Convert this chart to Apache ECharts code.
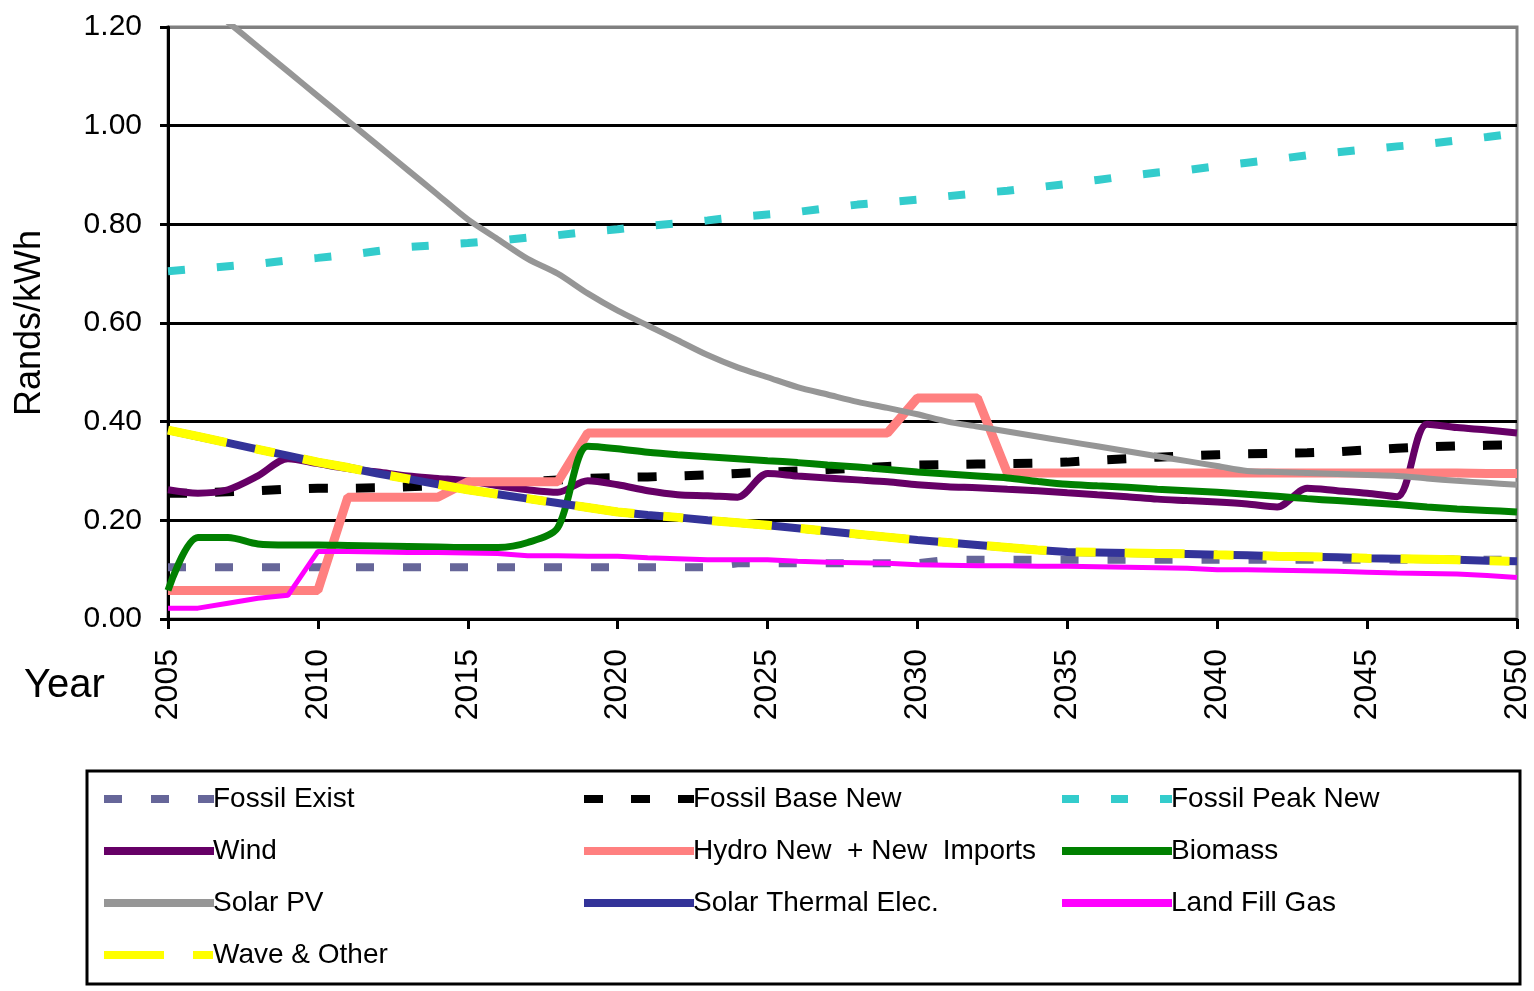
<!DOCTYPE html>
<html>
<head>
<meta charset="utf-8">
<script src="https://cdn.jsdelivr.net/npm/echarts@6/dist/echarts.min.js"></script>
<style>
  html, body { margin: 0; padding: 0; background: #fff; }
  #chart { width: 1534px; height: 991px; }
</style>
</head>
<body>
<div id="chart"></div>
<script>
const years = ['2005','2006','2007','2008','2009','2010','2011','2012','2013','2014',
  '2015','2016','2017','2018','2019','2020','2021','2022','2023','2024',
  '2025','2026','2027','2028','2029','2030','2031','2032','2033','2034',
  '2035','2036','2037','2038','2039','2040','2041','2042','2043','2044',
  '2045','2046','2047','2048','2049','2050'];

const fossilExist = [0.105,0.105,0.105,0.105,0.105,0.105,0.105,0.105,0.105,0.105,
  0.105,0.105,0.105,0.105,0.105,0.105,0.105,0.105,0.105,0.113,
  0.113,0.113,0.113,0.113,0.113,0.113,0.12,0.12,0.12,0.12,
  0.12,0.12,0.12,0.12,0.12,0.12,0.12,0.12,0.12,0.12,
  0.12,0.12,0.12,0.12,0.12,0.12];

const fossilBaseNew = [0.255,0.255,0.258,0.26,0.263,0.265,0.265,0.266,0.268,0.27,
  0.272,0.275,0.278,0.282,0.285,0.287,0.288,0.29,0.292,0.295,
  0.298,0.3,0.303,0.306,0.309,0.312,0.313,0.314,0.315,0.316,
  0.318,0.322,0.325,0.328,0.331,0.333,0.335,0.336,0.337,0.339,
  0.343,0.346,0.349,0.351,0.352,0.353];

const fossilPeakNew = [0.705,0.71,0.715,0.72,0.727,0.732,0.738,0.746,0.754,0.758,
  0.762,0.767,0.773,0.778,0.785,0.79,0.797,0.802,0.808,0.815,
  0.82,0.825,0.833,0.84,0.845,0.85,0.857,0.863,0.868,0.875,
  0.882,0.89,0.898,0.905,0.91,0.918,0.925,0.932,0.94,0.946,
  0.952,0.958,0.963,0.97,0.977,0.985];

const wind = [0.262,0.255,0.262,0.29,0.325,0.315,0.305,0.298,0.29,0.285,
  0.28,0.27,0.262,0.257,0.28,0.272,0.26,0.252,0.25,0.247,
  0.295,0.29,0.286,0.282,0.278,0.272,0.268,0.266,0.263,0.26,
  0.256,0.252,0.248,0.243,0.24,0.237,0.233,0.227,0.265,0.26,
  0.255,0.248,0.395,0.388,0.383,0.377];

const hydroImports = [0.058,0.058,0.058,0.058,0.058,0.058,0.247,0.247,0.247,0.247,
  0.278,0.278,0.278,0.278,0.377,0.377,0.377,0.377,0.377,0.377,
  0.377,0.377,0.377,0.377,0.377,0.448,0.448,0.448,0.296,0.296,
  0.296,0.296,0.296,0.296,0.296,0.296,0.296,0.296,0.296,0.296,
  0.296,0.296,0.296,0.296,0.295,0.295];

const biomass = [0.058,0.165,0.165,0.152,0.15,0.15,0.149,0.148,0.147,0.146,
  0.145,0.145,0.155,0.185,0.35,0.345,0.338,0.333,0.329,0.325,
  0.321,0.317,0.312,0.308,0.303,0.298,0.294,0.29,0.286,0.279,
  0.273,0.27,0.267,0.263,0.26,0.257,0.253,0.249,0.244,0.24,
  0.236,0.232,0.227,0.223,0.22,0.217];

const solarPV = [1.32,1.26,1.21,1.16,1.11,1.06,1.01,0.96,0.91,0.86,
  0.81,0.77,0.73,0.70,0.66,0.625,0.595,0.565,0.535,0.51,
  0.49,0.47,0.455,0.44,0.428,0.415,0.40,0.39,0.38,0.37,
  0.36,0.35,0.34,0.33,0.32,0.31,0.30,0.298,0.296,0.294,
  0.292,0.29,0.285,0.28,0.276,0.272];

const solarThermal = [0.383,0.37,0.357,0.344,0.331,0.318,0.307,0.295,0.284,0.273,
  0.262,0.253,0.244,0.235,0.226,0.217,0.211,0.206,0.2,0.195,
  0.19,0.184,0.178,0.172,0.166,0.16,0.155,0.15,0.145,0.14,
  0.136,0.135,0.134,0.133,0.132,0.13,0.129,0.127,0.126,0.125,
  0.123,0.122,0.121,0.12,0.118,0.117];

const landFillGas = [0.022,0.022,0.032,0.042,0.048,0.137,0.137,0.136,0.135,0.135,
  0.134,0.133,0.128,0.128,0.127,0.127,0.124,0.122,0.12,0.12,
  0.12,0.117,0.115,0.114,0.113,0.11,0.109,0.108,0.108,0.107,
  0.107,0.106,0.105,0.104,0.103,0.1,0.1,0.099,0.098,0.097,
  0.095,0.093,0.092,0.091,0.088,0.084];

const waveOther = [0.383,0.37,0.357,0.344,0.331,0.318,0.307,0.295,0.284,0.273,
  0.262,0.253,0.244,0.235,0.226,0.217,0.211,0.206,0.2,0.195,
  0.19,0.184,0.178,0.172,0.166,0.16,0.155,0.15,0.145,0.14,
  0.136,0.135,0.134,0.133,0.132,0.13,0.129,0.127,0.126,0.125,
  0.123,0.122,0.121,0.12,0.118,0.117];

const yTicks = [0, 0.2, 0.4, 0.6, 0.8, 1.0, 1.2];

const FONT = '"Liberation Sans", Arial, sans-serif';

function makeLine(name, data, color, width, dash, smooth) {
    return {
        name: name,
        type: 'line',
        data: data,
        symbol: 'none',
        smooth: smooth || false,
        lineStyle: { color: color, width: width, type: dash || 'solid', cap: 'butt' },
        itemStyle: { color: color }
    };
}

const series = [
    makeLine('Fossil Exist', fossilExist, '#666699', 8, [18, 29]),
    makeLine('Fossil Base New', fossilBaseNew, '#000000', 9, [19, 28]),
    makeLine('Fossil Peak New', fossilPeakNew, '#33CCCC', 8, [17, 32]),
    makeLine('Wind', wind, '#660066', 7, null, 0.3),
    makeLine('Hydro New  + New  Imports', hydroImports, '#FF8080', 9),
    makeLine('Biomass', biomass, '#008000', 7, null, 0.3),
    makeLine('Solar PV', solarPV, '#969696', 6, null, 0.3),
    makeLine('Solar Thermal Elec.', solarThermal, '#333399', 8),
    makeLine('Land Fill Gas', landFillGas, '#FF00FF', 5),
    makeLine('Wave & Other', waveOther, '#FFFF00', 9, [60, 29, 20, 29])
];

function legendColumn(names, left) {
    return {
        data: names,
        orient: 'vertical',
        left: left,
        top: 784,
        padding: 0,
        itemWidth: 110,
        itemHeight: 14,
        itemGap: 22,
        selectedMode: false,
        itemStyle: { opacity: 0 },
        lineStyle: { width: 8 },
        textStyle: { fontFamily: FONT, fontSize: 28, color: '#000', lineHeight: 30, padding: [0, 0, 0, -6] }
    };
}

const chart = echarts.init(document.getElementById('chart'));
chart.setOption({
    animation: false,
    backgroundColor: '#ffffff',
    grid: {
        left: 168, right: 17, top: 27, bottom: 372,
        outerBoundsMode: 'none',
        containLabel: false,
        show: true, borderColor: '#808080', borderWidth: 3
    },
    xAxis: {
        type: 'category',
        data: years,
        boundaryGap: false,
        axisLine: { lineStyle: { color: '#000', width: 3 } },
        axisTick: { interval: 4, length: 10, lineStyle: { color: '#000', width: 3 } },
        axisLabel: { interval: 4, rotate: 90, margin: 30, fontFamily: FONT, fontSize: 32, color: '#000' },
        splitLine: { show: false }
    },
    yAxis: {
        type: 'value',
        min: yTicks[0],
        max: yTicks[yTicks.length - 1],
        interval: 0.2,
        name: 'Rands/kWh',
        nameLocation: 'middle',
        nameRotate: 90,
        nameGap: 120,
        nameTextStyle: { fontFamily: FONT, fontSize: 36, color: '#000' },
        axisLine: { show: true, lineStyle: { color: '#000', width: 3 } },
        axisTick: { show: true, length: 8, lineStyle: { color: '#000', width: 3 } },
        axisLabel: { margin: 26, fontFamily: FONT, fontSize: 30, color: '#000', formatter: v => v.toFixed(2) },
        splitLine: { lineStyle: { color: ['#000', '#000', '#000', '#000', '#000', '#000', '#808080'], width: 3 } }
    },
    legend: [
        legendColumn(['Fossil Exist', 'Wind', 'Solar PV', 'Wave & Other'], 100),
        legendColumn(['Fossil Base New', 'Hydro New  + New  Imports', 'Solar Thermal Elec.'], 580),
        legendColumn(['Fossil Peak New', 'Biomass', 'Land Fill Gas'], 1058)
    ],
    graphic: [
        {
            type: 'rect',
            shape: { x: 87, y: 771, width: 1433, height: 213 },
            style: { fill: 'none', stroke: '#000', lineWidth: 3 },
            silent: true
        },
        {
            type: 'text',
            left: 24,
            top: 666,
            style: { text: 'Year', font: '40px "Liberation Sans", Arial, sans-serif', fill: '#000' }
        }
    ],
    series: series
});
</script>
</body>
</html>
